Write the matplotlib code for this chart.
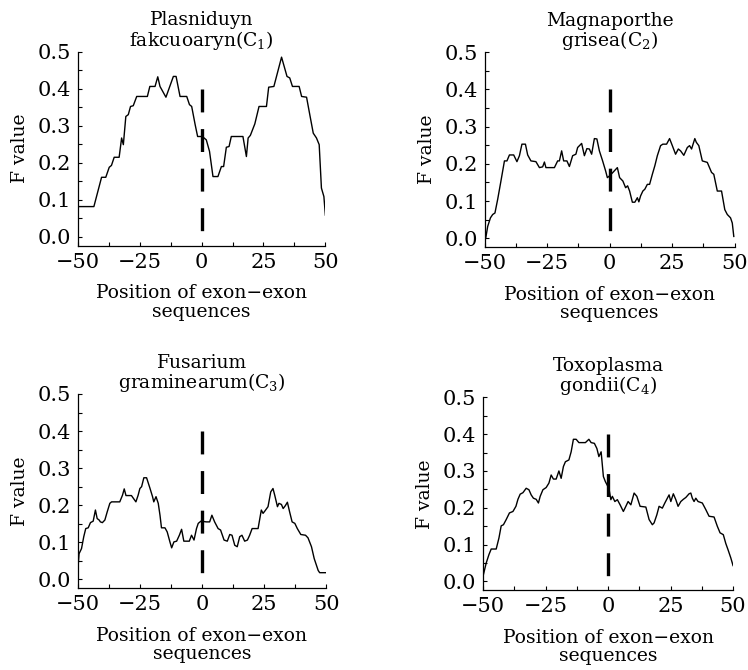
import matplotlib
matplotlib.use("Agg")
import matplotlib.pyplot as plt
from matplotlib.ticker import MultipleLocator, FormatStrFormatter

plt.rcParams["font.family"] = ["DejaVu Serif"]
plt.rcParams["mathtext.fontset"] = "dejavuserif"
plt.rcParams["lines.scale_dashes"] = False

titles = [
    "Plasniduyn\nfakcuoaryn(C$_1$)",
    "Magnaporthe\ngrisea(C$_2$)",
    "Fusarium\ngraminearum(C$_3$)",
    "Toxoplasma\ngondii(C$_4$)",
]
x_label = "Position of exon\u2212exon\nsequences"
y_label = "F value"

pos_c1 = [-50, -43.5, -40.4, -38.7, -37.3, -36.4, -35.3, -33.3, -32.3, -31.6, -30.6, -29.6,
          -28.7, -27.6, -26.2, -21.9, -20.9, -18.8, -17.7, -16.8, -14.4, -11.4, -10.3, -8.7,
          -6.0, -4.9, -4.0, -2.6, -1.6, 0.3, 1.9, 3.2, 4.6, 6.6, 8.0, 8.9, 10.0, 11.1, 12.0,
          16.7, 18.1, 18.8, 19.7, 21.5, 23.2, 26.2, 27.1, 29.2, 32.3, 34.5, 35.6, 36.7, 39.4,
          40.4, 42.4, 43.7, 45.1, 46.4, 47.5, 48.4, 49.4, 50.0]
f_c1 = [0.082, 0.082, 0.161, 0.161, 0.188, 0.193, 0.215, 0.215, 0.267, 0.249, 0.325, 0.330,
        0.352, 0.354, 0.379, 0.379, 0.406, 0.406, 0.432, 0.406, 0.377, 0.433, 0.433, 0.379,
        0.379, 0.357, 0.352, 0.303, 0.271, 0.271, 0.262, 0.231, 0.163, 0.163, 0.190, 0.190,
        0.242, 0.244, 0.271, 0.271, 0.217, 0.267, 0.274, 0.305, 0.352, 0.352, 0.404, 0.406,
        0.485, 0.433, 0.429, 0.406, 0.406, 0.379, 0.377, 0.330, 0.280, 0.267, 0.249, 0.132,
        0.109, 0.059]

pos_c2 = [-49.6, -48.8, -47.7, -46.8, -45.9, -44.8, -43.5, -42.1, -41.1, -40.1, -38.4, -37.1,
          -36.1, -35.1, -33.7, -32.8, -31.5, -29.5, -28.1, -26.8, -26.1, -25.5, -22.1, -20.8,
          -20.1, -19.2, -18.4, -17.1, -16.1, -14.8, -13.5, -12.8, -11.2, -10.1, -9.1, -8.1,
          -7.2, -6.1, -5.1, -4.1, -2.8, -1.6, -0.9, 0.0, 1.3, 3.1, 4.0, 5.3, 6.4, 7.2, 8.0,
          9.1, 10.1, 11.1, 11.7, 12.4, 13.3, 14.1, 15.1, 16.0, 17.1, 18.1, 19.1, 20.4, 21.3,
          22.8, 24.0, 25.1, 26.4, 27.5, 28.4, 29.7, 31.1, 32.0, 32.8, 34.1, 34.7, 35.7, 37.1,
          39.1, 40.8, 41.7, 43.1, 44.8, 46.1, 47.1, 48.4, 49.1, 49.7]
f_c2 = [0.000, 0.032, 0.055, 0.064, 0.068, 0.105, 0.154, 0.208, 0.208, 0.224, 0.224, 0.206,
        0.222, 0.253, 0.253, 0.224, 0.208, 0.206, 0.190, 0.192, 0.205, 0.190, 0.190, 0.208,
        0.208, 0.235, 0.208, 0.208, 0.193, 0.222, 0.226, 0.244, 0.255, 0.222, 0.241, 0.240,
        0.226, 0.268, 0.267, 0.235, 0.208, 0.181, 0.163, 0.168, 0.177, 0.190, 0.163, 0.154,
        0.136, 0.141, 0.127, 0.097, 0.097, 0.109, 0.098, 0.114, 0.127, 0.132, 0.145, 0.145,
        0.172, 0.195, 0.222, 0.249, 0.253, 0.253, 0.268, 0.249, 0.226, 0.240, 0.235, 0.223,
        0.244, 0.249, 0.240, 0.268, 0.258, 0.249, 0.208, 0.204, 0.177, 0.172, 0.127, 0.127,
        0.077, 0.064, 0.055, 0.041, 0.005]

pos_c3 = [-50.0, -49.5, -48.5, -47.6, -46.8, -45.8, -44.9, -43.8, -42.9, -42.2, -41.4, -40.9,
          -40.1, -39.1, -38.2, -37.1, -36.4, -33.1, -32.0, -31.3, -30.6, -28.4, -26.6, -25.7,
          -25.0, -24.3, -23.4, -22.3, -21.0, -19.9, -19.4, -18.5, -17.6, -16.9, -16.3, -14.9,
          -14.0, -12.9, -12.2, -11.3, -10.2, -9.1, -8.2, -7.3, -5.1, -4.2, -3.2, -2.2, -1.5,
          -0.4, 1.7, 3.1, 4.0, 5.1, 6.5, 7.5, 8.9, 10.2, 11.2, 12.1, 13.2, 14.2, 15.2, 16.1,
          17.2, 18.3, 19.2, 20.2, 22.6, 23.9, 24.6, 25.3, 26.6, 27.7, 28.6, 29.3, 30.4, 31.0,
          32.0, 32.7, 33.6, 34.4, 35.3, 36.3, 37.4, 38.4, 39.8, 41.7, 42.7, 44.1, 45.2, 46.8,
          47.4, 50.0]
f_c3 = [0.024, 0.069, 0.083, 0.115, 0.137, 0.139, 0.153, 0.157, 0.187, 0.164, 0.160, 0.155,
        0.153, 0.160, 0.181, 0.205, 0.209, 0.209, 0.227, 0.244, 0.226, 0.226, 0.209, 0.227,
        0.245, 0.250, 0.274, 0.274, 0.247, 0.223, 0.209, 0.223, 0.205, 0.173, 0.139, 0.139,
        0.128, 0.101, 0.085, 0.101, 0.103, 0.119, 0.135, 0.103, 0.103, 0.119, 0.106, 0.137,
        0.151, 0.157, 0.155, 0.155, 0.173, 0.155, 0.137, 0.133, 0.106, 0.103, 0.121, 0.119,
        0.092, 0.088, 0.115, 0.119, 0.103, 0.106, 0.119, 0.137, 0.137, 0.187, 0.178, 0.184,
        0.196, 0.236, 0.245, 0.227, 0.196, 0.205, 0.202, 0.191, 0.199, 0.208, 0.182, 0.155,
        0.151, 0.137, 0.121, 0.119, 0.112, 0.088, 0.056, 0.024, 0.018, 0.018]

pos_c4 = [-49.9, -48.8, -47.7, -46.8, -44.8, -43.7, -42.8, -41.9, -40.8, -39.5, -38.1, -36.9,
          -36.1, -35.2, -34.1, -32.8, -31.7, -30.8, -29.9, -28.8, -27.9, -27.2, -26.1, -24.8,
          -23.7, -22.8, -21.9, -20.8, -19.7, -18.8, -17.9, -17.1, -15.7, -14.8, -13.9, -12.8,
          -11.7, -9.1, -7.7, -6.8, -5.5, -4.5, -3.7, -2.8, -1.9, -1.1, -0.1, 0.4, 1.1, 1.7,
          2.7, 3.7, 4.8, 6.1, 7.1, 8.0, 9.1, 10.4, 11.5, 12.8, 15.1, 16.4, 17.7, 18.4, 19.5,
          20.4, 21.7, 22.7, 23.7, 24.4, 25.1, 26.1, 27.1, 28.0, 29.1, 30.1, 31.1, 32.4, 33.1,
          33.7, 34.4, 35.1, 36.0, 37.7, 39.1, 40.4, 42.4, 43.7, 44.8, 46.1, 47.1, 48.0, 49.1,
          50.0]
f_c4 = [0.019, 0.050, 0.073, 0.088, 0.088, 0.118, 0.151, 0.154, 0.168, 0.186, 0.190, 0.204,
        0.223, 0.237, 0.241, 0.253, 0.249, 0.235, 0.226, 0.223, 0.213, 0.231, 0.249, 0.255,
        0.267, 0.289, 0.278, 0.278, 0.300, 0.280, 0.312, 0.325, 0.330, 0.352, 0.386, 0.386,
        0.377, 0.377, 0.386, 0.377, 0.375, 0.361, 0.339, 0.352, 0.285, 0.271, 0.258, 0.249,
        0.222, 0.231, 0.217, 0.222, 0.208, 0.190, 0.204, 0.217, 0.208, 0.240, 0.231, 0.204,
        0.202, 0.168, 0.154, 0.159, 0.181, 0.204, 0.199, 0.213, 0.226, 0.235, 0.217, 0.238,
        0.222, 0.204, 0.217, 0.223, 0.228, 0.238, 0.240, 0.226, 0.217, 0.226, 0.217, 0.213,
        0.195, 0.177, 0.175, 0.150, 0.132, 0.127, 0.103, 0.086, 0.064, 0.043]

positions = [pos_c1, pos_c2, pos_c3, pos_c4]
f_values = [f_c1, f_c2, f_c3, f_c4]
junction = 0.0
junction_top = 0.4

axes_rects = [
    [0.104, 0.633, 0.331, 0.290],
    [0.648, 0.631, 0.334, 0.291],
    [0.104, 0.122, 0.332, 0.290],
    [0.646, 0.119, 0.334, 0.288],
]

fig = plt.figure(figsize=(7.48, 6.70), dpi=100)
fs = 13.5
tick_fs = 15

for rect, title, xs, ys in zip(axes_rects, titles, positions, f_values):
    ax = fig.add_axes(rect)
    ax.plot(xs, ys, color="black", lw=1.0)
    ax.plot([junction, junction], [junction_top, 0.0], color="black", lw=2.4,
            linestyle=(0, (16.5, 12.0)), solid_capstyle="butt", dash_capstyle="butt")
    ax.set_xlim(-50, 50)
    ax.set_ylim(-0.024, 0.5)
    ax.spines["top"].set_visible(False)
    ax.spines["right"].set_visible(False)
    for s in ("left", "bottom"):
        ax.spines[s].set_linewidth(0.9)
    ax.xaxis.set_major_locator(MultipleLocator(25))
    ax.xaxis.set_minor_locator(MultipleLocator(12.5))
    ax.yaxis.set_major_locator(MultipleLocator(0.1))
    ax.yaxis.set_minor_locator(MultipleLocator(0.05))
    ax.yaxis.set_major_formatter(FormatStrFormatter("%.1f"))
    ax.tick_params(which="both", direction="in", length=3, width=0.8,
                   top=False, right=False, labelsize=tick_fs, pad=5)
    ax.set_title(title, fontsize=fs, linespacing=0.95, pad=4)
    ax.set_xlabel(x_label, fontsize=fs, linespacing=1.05, labelpad=9)
    ax.set_ylabel(y_label, fontsize=fs, labelpad=6)

fig.savefig("out.png", dpi=100)
